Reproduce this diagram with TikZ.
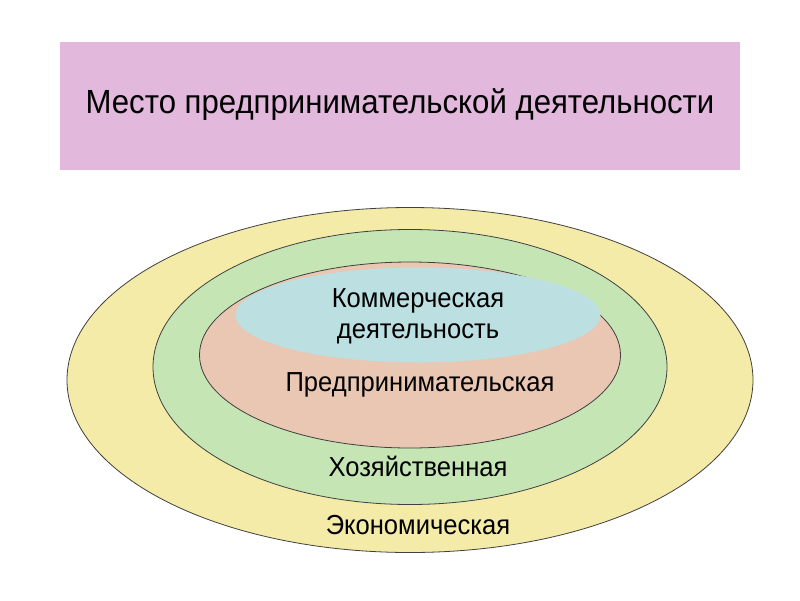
\documentclass[tikz,border=0pt]{standalone}
\usepackage{fontspec}
\setmainfont[FakeStretch=0.93]{Liberation Sans}
\usetikzlibrary{shapes.geometric}
\definecolor{titlefill}{HTML}{E2B8DC}
\definecolor{econ}{HTML}{F5EBA8}
\definecolor{hoz}{HTML}{C6E5B5}
\definecolor{pred}{HTML}{E9C7B3}
\definecolor{komm}{HTML}{BCDFE1}
\definecolor{edge}{HTML}{404040}
\tikzset{
  ring/.style={ellipse, draw=edge, line width=0.8pt, inner sep=0pt},
  lbl/.style={font=\fontsize{27.5}{31}\selectfont, text=black, align=center}
}
\begin{document}
\begin{tikzpicture}[x=1pt,y=-1pt]
\useasboundingbox (0,0) rectangle (800,600);
\fill[white] (0,0) rectangle (800,600);
\node[fill=titlefill, minimum width=680pt, minimum height=128pt, inner sep=0pt] (title) at (400,106) {};
\node[font=\fontsize{33.5}{38}\selectfont] (titletext) at (400,105) {Место предпринимательской деятельности};
\node[ring, fill=econ, minimum width=686pt, minimum height=345pt] (e1) at (410,380) {};
\node[ring, fill=hoz, minimum width=514pt, minimum height=275pt] (e2) at (410,367) {};
\node[ring, fill=pred, minimum width=421pt, minimum height=186pt] (e3) at (410,355) {};
\node[ellipse, fill=komm, inner sep=0pt, minimum width=365pt, minimum height=95pt] (e4) at (418,315) {};
\node[lbl] (t4) at (418,316) {Коммерческая\\деятельность};
\node[lbl] (t3) at (420,385) {Предпринимательская};
\node[lbl] (t2) at (418,466) {Хозяйственная};
\node[lbl] (t1) at (418,525) {Экономическая};
\end{tikzpicture}
\end{document}
